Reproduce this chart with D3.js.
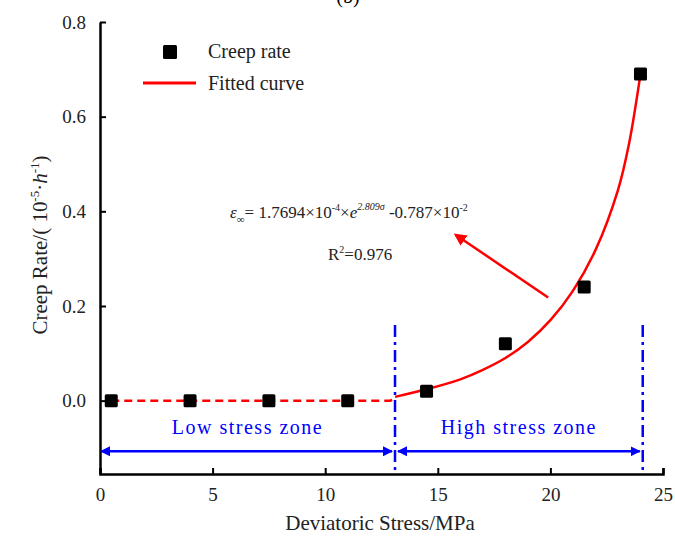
<!DOCTYPE html>
<html>
<head>
<meta charset="utf-8">
<script src="https://cdn.jsdelivr.net/npm/d3@7"></script>
<style>
  body { margin: 0; background: #fff; }
  svg text { font-family: "Liberation Serif", "Times New Roman", serif; }
</style>
</head>
<body>
<div id="plot"></div>
<script>
// Data
const stress = [0.5, 4, 7.5, 11, 14.5, 18, 21.5, 24];
const creepRate = [0, 0, 0, 0, 0.02, 0.12, 0.24, 0.69];

// fitted curve
const fitX = [13.1, 14.5, 16, 17, 18, 19, 20, 21, 22, 23, 23.5, 24];
const fitY = [0.008, 0.024, 0.045, 0.065, 0.09, 0.124, 0.17, 0.232, 0.318, 0.445, 0.545, 0.69];

// dashed low-stress part
const lowX = [0.5, 12.9, 13.1];
const lowY = [0, 0, 0.008];

const xTicks = [0, 5, 10, 15, 20, 25];
const yTicks = [0, 0.2, 0.4, 0.6, 0.8];
const zoneBounds = [0, 13.1, 24.1];
const zoneNames = ["Low stress zone", "High stress zone"];

const W = 675, H = 545;
const margin = { top: 22, right: 12, bottom: 71, left: 100 };

const svg = d3.select("#plot")
    .append("svg")
    .attr("width", W)
    .attr("height", H);

const x = d3.scaleLinear().domain([0, 25]).range([margin.left, W - margin.right]);
const y = d3.scaleLinear().domain([-0.155, 0.8]).range([H - margin.bottom, margin.top]);

// "(b)" label, cut at top like the source
svg.append("text")
    .attr("x", 348).attr("y", 3)
    .attr("text-anchor", "middle")
    .style("font-size", "20px")
    .text("(b)");

// axes
const xAxis = svg.append("g")
    .attr("transform", "translate(0," + y(-0.155) + ")")
    .call(d3.axisBottom(x).tickValues(xTicks).tickSizeInner(-6).tickSizeOuter(-6).tickPadding(14).tickFormat(d3.format("d")));

const yAxis = svg.append("g")
    .attr("transform", "translate(" + x(0) + ",0)")
    .call(d3.axisLeft(y).tickValues(yTicks).tickSizeInner(-6).tickSizeOuter(0).tickPadding(14).tickFormat(d3.format(".1f")));

[xAxis, yAxis].forEach(g => {
    g.select(".domain").attr("stroke", "#000").attr("stroke-width", 2.5);
    g.selectAll(".tick line").attr("stroke", "#000").attr("stroke-width", 2);
    g.selectAll(".tick text")
        .style("font-family", "Liberation Serif, serif")
        .style("font-size", "19px")
        .attr("fill", "#222");
});

// axis titles
svg.append("text")
    .attr("x", 380).attr("y", 530)
    .attr("text-anchor", "middle")
    .style("font-size", "21px")
    .attr("fill", "#222")
    .text("Deviatoric Stress/MPa");

const yTitle = svg.append("text")
    .attr("transform", "translate(47,245) rotate(-90)")
    .attr("text-anchor", "middle")
    .style("font-size", "21px")
    .attr("fill", "#222");
yTitle.append("tspan").text("Creep Rate/( 10");
yTitle.append("tspan").attr("dy", -8).style("font-size", "13px").text("-5");
yTitle.append("tspan").attr("dy", 8).text("·");
yTitle.append("tspan").style("font-style", "italic").text("h");
yTitle.append("tspan").attr("dy", -8).style("font-size", "13px").text("-1");
yTitle.append("tspan").attr("dy", 8).text(")");

// zone boundaries (dash-dot)
svg.selectAll(".zone-line")
    .data(zoneBounds.slice(1))
    .enter()
    .append("line")
    .attr("x1", d => x(d)).attr("x2", d => x(d))
    .attr("y1", y(0.16)).attr("y2", y(-0.155))
    .attr("stroke", "#0000ff")
    .attr("stroke-width", 2.5)
    .attr("stroke-dasharray", "12,5,3,5");

// arrow markers
const defs = svg.append("defs");
defs.append("marker")
    .attr("id", "arrBlue")
    .attr("viewBox", "0 0 10 10")
    .attr("refX", 9).attr("refY", 5)
    .attr("markerWidth", 4).attr("markerHeight", 4)
    .attr("orient", "auto-start-reverse")
  .append("path")
    .attr("d", "M0,0 L10,5 L0,10 z")
    .attr("fill", "#0000ff");

defs.append("marker")
    .attr("id", "arrRed")
    .attr("viewBox", "0 0 10 10")
    .attr("refX", 8).attr("refY", 5)
    .attr("markerWidth", 5).attr("markerHeight", 5)
    .attr("orient", "auto")
  .append("path")
    .attr("d", "M0,0 L10,5 L0,10 z")
    .attr("fill", "#ff0000");

// zone double arrows
const zoneY = -0.107;
const zones = zoneNames.map((name, i) => ({ name: name, x0: zoneBounds[i], x1: zoneBounds[i + 1] }));

svg.selectAll(".zone-arrow")
    .data(zones)
    .enter()
    .append("line")
    .attr("x1", (d, i) => x(d.x0) + (i ? 3 : 1))
    .attr("x2", (d, i) => x(d.x1) - 3)
    .attr("y1", y(zoneY)).attr("y2", y(zoneY))
    .attr("stroke", "#0000ff")
    .attr("stroke-width", 2.5)
    .attr("marker-start", "url(#arrBlue)")
    .attr("marker-end", "url(#arrBlue)");

svg.selectAll(".zone-label")
    .data(zones)
    .enter()
    .append("text")
    .attr("x", d => (x(d.x0) + x(d.x1)) / 2)
    .attr("y", y(-0.07))
    .attr("text-anchor", "middle")
    .style("font-size", "20px")
    .style("letter-spacing", "1.5px")
    .attr("fill", "#0000ff")
    .text(d => d.name);

// fitted curve pieces
const line = d3.line()
    .x(d => x(d[0]))
    .y(d => y(d[1]));

svg.append("path")
    .datum(lowX.map((v, i) => [v, lowY[i]]))
    .attr("d", line)
    .attr("fill", "none")
    .attr("stroke", "#ff0000")
    .attr("stroke-width", 2.5)
    .attr("stroke-dasharray", "8,5");

svg.append("path")
    .datum(fitX.map((v, i) => [v, fitY[i]]))
    .attr("d", line.curve(d3.curveCatmullRom))
    .attr("fill", "none")
    .attr("stroke", "#ff0000")
    .attr("stroke-width", 2.5);

// data points
svg.selectAll(".pt")
    .data(stress)
    .enter()
    .append("rect")
    .attr("x", d => x(d) - 6.5)
    .attr("y", (d, i) => y(creepRate[i]) - 6.5)
    .attr("width", 13).attr("height", 13)
    .attr("rx", 1.5)
    .attr("fill", "#000");

// equation annotation
const eq = svg.append("text")
    .attr("x", 230).attr("y", 218)
    .style("font-size", "17px")
    .attr("fill", "#222");
eq.append("tspan").style("font-style", "italic").text("ε");
eq.append("tspan").attr("dy", 5).style("font-size", "11px").text("∞");
eq.append("tspan").attr("dy", -5).text("= 1.7694×10");
eq.append("tspan").attr("dy", -7).style("font-size", "10px").text("-4");
eq.append("tspan").attr("dy", 7).text("×");
eq.append("tspan").style("font-style", "italic").text("e");
eq.append("tspan").attr("dy", -8).style("font-size", "10px").style("font-style", "italic").text("2.809σ");
eq.append("tspan").attr("dy", 8).text(" -0.787×10");
eq.append("tspan").attr("dy", -7).style("font-size", "10px").text("-2");

const r2 = svg.append("text")
    .attr("x", 328).attr("y", 260)
    .style("font-size", "17px")
    .attr("fill", "#222");
r2.append("tspan").text("R");
r2.append("tspan").attr("dy", -7).style("font-size", "10px").text("2");
r2.append("tspan").attr("dy", 7).text("=0.976");

// red pointer arrow
svg.append("line")
    .attr("x1", x(19.9)).attr("y1", y(0.218))
    .attr("x2", x(15.8)).attr("y2", y(0.35))
    .attr("stroke", "#ff0000")
    .attr("stroke-width", 2.5)
    .attr("marker-end", "url(#arrRed)");

// legend
const legend = svg.append("g");
legend.append("rect")
    .attr("x", 163).attr("y", 45)
    .attr("width", 14).attr("height", 14)
    .attr("rx", 1.5)
    .attr("fill", "#000");
legend.append("line")
    .attr("x1", 143).attr("x2", 196)
    .attr("y1", 83).attr("y2", 83)
    .attr("stroke", "#ff0000")
    .attr("stroke-width", 3);
legend.append("text")
    .attr("x", 208).attr("y", 58)
    .style("font-size", "20px")
    .attr("fill", "#222")
    .text("Creep rate");
legend.append("text")
    .attr("x", 208).attr("y", 90)
    .style("font-size", "20px")
    .attr("fill", "#222")
    .text("Fitted curve");
</script>
</body>
</html>
